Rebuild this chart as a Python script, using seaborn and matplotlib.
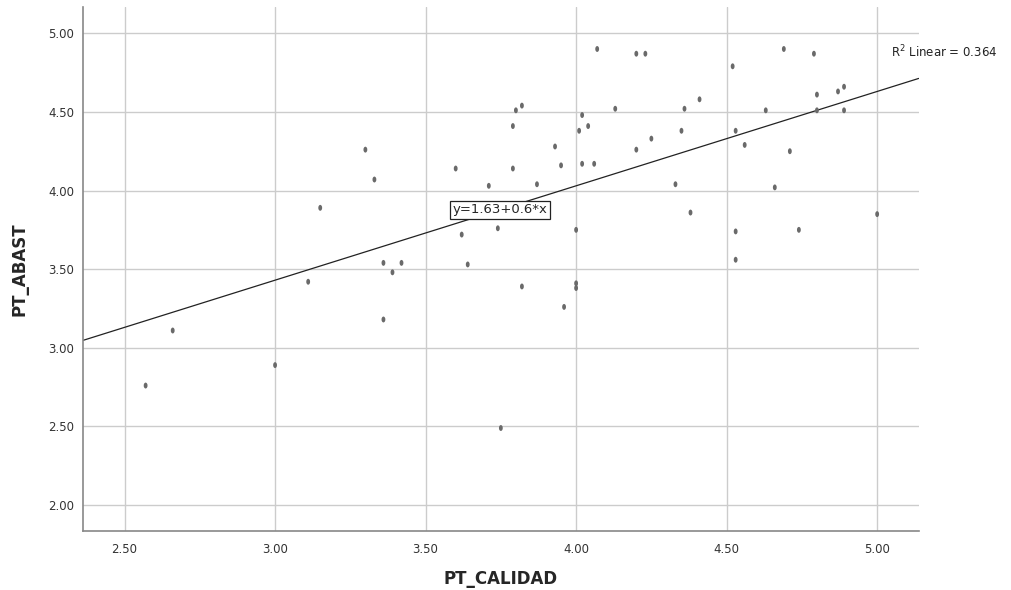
import numpy as np
import pandas as pd
import matplotlib
matplotlib.use("Agg")
import matplotlib.pyplot as plt
from matplotlib.path import Path
from matplotlib.transforms import Affine2D
import seaborn as sns

# valores
pt_calidad = [3.30, 3.33, 3.15, 3.60, 3.71, 3.62, 3.74, 3.36, 3.42, 3.39,
              3.64, 3.11, 3.36, 2.66, 2.57, 3.00, 3.75, 4.07, 4.20, 4.23,
              4.69, 4.79, 4.52, 4.80, 4.87, 4.89, 4.80, 4.89, 4.63, 4.41,
              4.36, 4.13, 3.82, 3.80, 3.79, 4.02, 4.01, 4.04, 4.35, 4.53,
              4.25, 4.20, 3.93, 4.56, 4.71, 3.79, 3.95, 4.02, 4.06, 3.87,
              4.33, 4.66, 4.00, 4.38, 5.00, 4.53, 4.74, 4.53, 3.82, 4.00,
              4.00, 3.96]
pt_abast = [4.26, 4.07, 3.89, 4.14, 4.03, 3.72, 3.76, 3.54, 3.54, 3.48,
            3.53, 3.42, 3.18, 3.11, 2.76, 2.89, 2.49, 4.90, 4.87, 4.87,
            4.90, 4.87, 4.79, 4.61, 4.63, 4.66, 4.51, 4.51, 4.51, 4.58,
            4.52, 4.52, 4.54, 4.51, 4.41, 4.48, 4.38, 4.41, 4.38, 4.38,
            4.33, 4.26, 4.28, 4.29, 4.25, 4.14, 4.16, 4.17, 4.17, 4.04,
            4.04, 4.02, 3.75, 3.86, 3.85, 3.74, 3.75, 3.56, 3.39, 3.38,
            3.41, 3.26]

intercepto = 1.63
pendiente = 0.6
r2 = 0.364

x_ticks = [2.50, 3.00, 3.50, 4.00, 4.50, 5.00]
y_ticks = [2.00, 2.50, 3.00, 3.50, 4.00, 4.50, 5.00]

df = pd.DataFrame({"PT_CALIDAD": pt_calidad, "PT_ABAST": pt_abast})

sns.set_style("white")
plt.rcParams["font.family"] = ["DejaVu Sans"]

fig = plt.figure(figsize=(10.11, 5.90), dpi=100)
ax = fig.add_axes([0.0818, 0.1005, 0.8269, 0.8871])

# marcador eliptico como en SPSS
elipse = Path.unit_circle().transformed(Affine2D().scale(0.65, 1.0))

ax.set_axisbelow(True)
ax.grid(True, color="#cccccc", linewidth=1.0)

sns.scatterplot(data=df, x="PT_CALIDAD", y="PT_ABAST", ax=ax,
                marker=elipse, s=18, color="#6a6a6a", edgecolor="none",
                zorder=3)

ax.axline((0, intercepto), slope=pendiente, color="#222222",
          linewidth=0.9, zorder=2)

ax.set_xlim(2.361, 5.138)
ax.set_ylim(1.837, 5.165)
ax.set_xticks(x_ticks)
ax.set_yticks(y_ticks)
ax.set_xticklabels([f"{t:.2f}" for t in x_ticks])
ax.set_yticklabels([f"{t:.2f}" for t in y_ticks])
ax.tick_params(length=0, labelsize=8.5, colors="#333333")
ax.tick_params(axis="x", pad=9)
ax.tick_params(axis="y", pad=6)

for lado in ["top", "right"]:
    ax.spines[lado].set_visible(False)
for lado in ["left", "bottom"]:
    ax.spines[lado].set_color("#888888")
    ax.spines[lado].set_linewidth(1.2)

ax.set_xlabel("PT_CALIDAD", fontsize=12, fontweight="bold", labelpad=10)
ax.set_ylabel("PT_ABAST", fontsize=12, fontweight="bold", labelpad=14)

ax.text(3.748, 3.877, f"y={intercepto}+{pendiente}*x", fontsize=9.5,
        ha="center", va="center", zorder=4,
        bbox=dict(boxstyle="square,pad=0.2", facecolor="white",
                  edgecolor="#222222", linewidth=0.9))

ax.text(5.045, 4.881, r"R$^2$ Linear = " + f"{r2}", fontsize=8.5,
        ha="left", va="center", color="#222222", clip_on=False)

fig.savefig("out.png", dpi=100)
